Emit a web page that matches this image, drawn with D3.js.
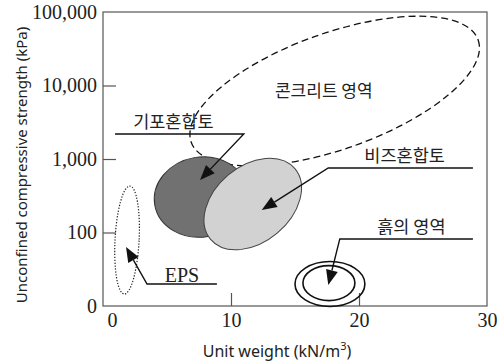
<!DOCTYPE html>
<html>
<head>
<meta charset="utf-8">
<script src="https://cdn.jsdelivr.net/npm/d3@7"></script>
<style>
  html, body { margin: 0; padding: 0; background: #fff; }
  svg { display: block; }
</style>
</head>
<body>
<svg id="chart" width="504" height="362"></svg>
<script>
// Material regions on the unit weight / compressive strength plane
const regionNames    = ["콘크리트 영역", "기포혼합토", "비즈혼합토", "EPS", "흙의 영역"];
const centerWeight   = [18.1, 7.66, 11.7, 1.88, 17.73];   // kN/m3
const centerStrength = [8400, 304, 244, 79, 19.9];        // kPa
const halfWeight     = [11.9, 3.67, 4.3, 0.94, 2.73];     // half-axis, kN/m3
const halfDecades    = [0.79, 0.544, 0.517, 0.735, 0.306];// half-axis, log10 decades
const tiltDeg        = [-19.6, -10, -40, 3, 0];

// inner ring of the soil region
const soilInner = { weight: 17.65, strength: 20.5, halfWeight: 2.03, halfDecades: 0.238 };

// Callouts: arrow tip, elbow, and far end of the label shelf
const calloutLabel    = ["기포혼합토", "비즈혼합토", "흙의 영역", "EPS"];
const tipWeight       = [7.58, 12.4, 17.6, 1.8];
const tipStrength     = [518, 202, 19.3, 63.5];
const elbowWeight     = [11.0, 17.6, 18.5, 3.44];
const elbowStrength   = [2188, 755, 81.7, 19.9];
const shelfEndWeight  = [0.94, 28.9, 28.9, 8.9];

// Axes
const xTicks = [0, 10, 20, 30];
const yTicks = [10, 100, 1000, 10000, 100000];
const yTickLabels = ["0", "100", "1,000", "10,000", "100,000"];

const svg = d3.select("#chart");
const x = d3.scaleLinear().domain([0, 30]).range([103, 487]);
const y = d3.scaleLog().domain([10, 100000]).range([306, 12]);

const serif = "'Liberation Serif', 'Times New Roman', serif";
const sans = "'Noto Sans', 'Open Sans', sans-serif";
const kor = "'Noto Sans CJK KR', sans-serif";

// plot frame
svg.append("rect")
  .attr("x", x(0)).attr("y", y(100000))
  .attr("width", x(30) - x(0)).attr("height", y(10) - y(100000))
  .attr("fill", "none").attr("stroke", "#555").attr("stroke-width", 1.2);

// y axis: inward ticks
const yAxis = svg.append("g")
  .attr("transform", `translate(${x(0)},0)`)
  .call(d3.axisLeft(y).tickValues(yTicks).tickSize(-13).tickPadding(6)
    .tickFormat((d, i) => yTickLabels[i]));
yAxis.select(".domain").remove();
yAxis.selectAll(".tick line").attr("stroke", "#555").attr("stroke-width", 1.2)
  .filter(d => d === 10 || d === 100000).remove();
yAxis.selectAll(".tick text").attr("font-family", serif).attr("font-size", 20)
  .attr("fill", "#222");

// x axis: inward ticks
const xAxis = svg.append("g")
  .attr("transform", `translate(0,${y(10)})`)
  .call(d3.axisBottom(x).tickValues(xTicks).tickSize(-13).tickPadding(7)
    .tickFormat(d3.format("d")));
xAxis.select(".domain").remove();
xAxis.selectAll(".tick line").attr("stroke", "#555").attr("stroke-width", 1.2)
  .filter(d => d === 0 || d === 30).remove();
xAxis.selectAll(".tick text").attr("font-family", serif).attr("font-size", 20)
  .attr("fill", "#222")
  .attr("dx", d => d === 0 ? 9 : 0);

// axis titles
const xTitle = svg.append("text")
  .attr("x", 277).attr("y", 357).attr("text-anchor", "middle")
  .attr("font-family", sans).attr("font-size", 16).attr("fill", "#222");
xTitle.append("tspan").text("Unit weight (kN/m");
xTitle.append("tspan").attr("dy", -7).attr("font-size", 11).text("3");
xTitle.append("tspan").attr("dy", 7).text(")");

svg.append("text")
  .attr("transform", `translate(27,165) rotate(-90)`)
  .attr("text-anchor", "middle")
  .attr("font-family", sans).attr("font-size", 15).attr("fill", "#222")
  .text("Unconfined compressive strength (kPa)");

// region ellipses, sized through the scales
function ellipse(w, s, hw, hd, tilt) {
  const cx = x(w), cy = y(s);
  const rx = x(w + hw) - cx;
  const ry = cy - y(s * Math.pow(10, hd));
  return svg.append("ellipse")
    .attr("cx", 0).attr("cy", 0).attr("rx", rx).attr("ry", ry)
    .attr("transform", `translate(${cx},${cy}) rotate(${tilt})`);
}

const regionStyle = [
  { fill: "none",    stroke: "#111", width: 1.3, dash: "7,4" },
  { fill: "#717171", stroke: "#333", width: 1.0, dash: null },
  { fill: "#d2d2d2", stroke: "#444", width: 1.0, dash: null },
  { fill: "none",    stroke: "#222", width: 1.2, dash: "1.3,1.6" },
  { fill: "none",    stroke: "#111", width: 1.6, dash: null }
];

regionNames.forEach((name, i) => {
  const st = regionStyle[i];
  const e = ellipse(centerWeight[i], centerStrength[i], halfWeight[i], halfDecades[i], tiltDeg[i])
    .attr("fill", st.fill).attr("stroke", st.stroke).attr("stroke-width", st.width);
  if (st.dash) e.attr("stroke-dasharray", st.dash);
});
ellipse(soilInner.weight, soilInner.strength, soilInner.halfWeight, soilInner.halfDecades, 0)
  .attr("fill", "none").attr("stroke", "#111").attr("stroke-width", 1.6);

// concrete region label
svg.append("text")
  .attr("x", x(17.25)).attr("y", y(8400)).attr("dy", "0.35em")
  .attr("text-anchor", "middle")
  .attr("font-family", kor).attr("font-size", 17).attr("fill", "#222")
  .text(regionNames[0]);

// callouts: shelf line, leader, arrowhead, label
const headLen = 15, headHalf = 6;
const labelNudge = { "기포혼합토": -6, "비즈혼합토": 4, "흙의 영역": 5, "EPS": 0 };
calloutLabel.forEach((label, i) => {
  const tx = x(tipWeight[i]), ty = y(tipStrength[i]);
  const ex = x(elbowWeight[i]), ey = y(elbowStrength[i]);
  const sx = x(shelfEndWeight[i]);
  const ang = Math.atan2(ty - ey, tx - ex);
  const bx = tx - headLen * Math.cos(ang), by = ty - headLen * Math.sin(ang);
  const px = -Math.sin(ang) * headHalf, py = Math.cos(ang) * headHalf;

  svg.append("path")
    .attr("d", `M${sx},${ey}L${ex},${ey}L${bx},${by}`)
    .attr("fill", "none").attr("stroke", "#111").attr("stroke-width", 1.4);
  svg.append("path")
    .attr("d", `M${tx},${ty}L${bx + px},${by + py}L${bx - px},${by - py}Z`)
    .attr("fill", "#111");

  const isLatin = label === "EPS";
  svg.append("text")
    .attr("x", (sx + ex) / 2 + labelNudge[label])
    .attr("y", ey - (isLatin ? 2 : 6))
    .attr("text-anchor", "middle")
    .attr("font-family", isLatin ? serif : kor)
    .attr("font-size", isLatin ? 20 : 17.5)
    .attr("fill", "#222")
    .text(label);
});
</script>
</body>
</html>
